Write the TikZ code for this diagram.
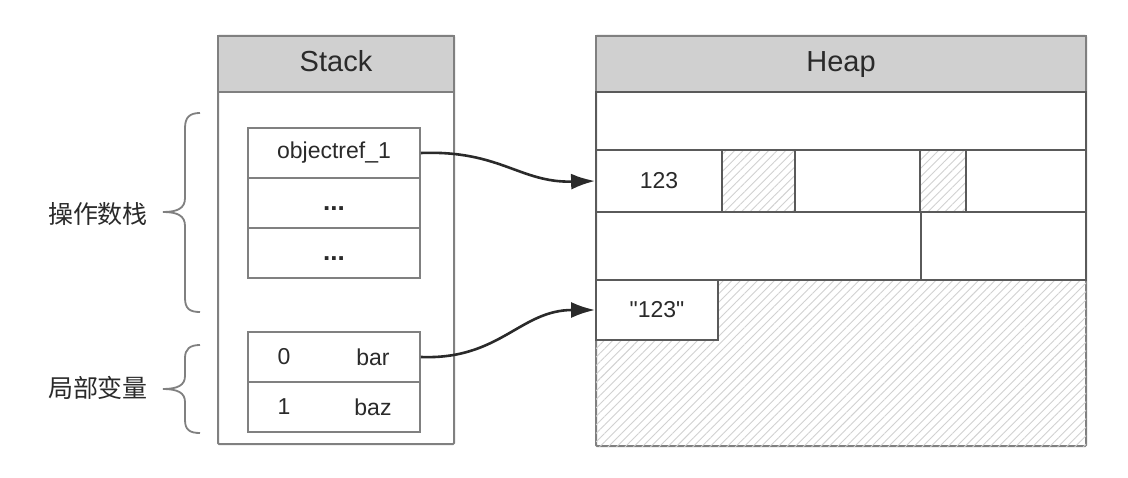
\documentclass[tikz,border=0pt]{standalone}
\usepackage{fontspec}
\setmainfont{Liberation Sans}
\newfontfamily\cjk{Noto Sans CJK SC}
\usetikzlibrary{patterns.meta,arrows.meta}
\definecolor{edge}{HTML}{808080}
\definecolor{darkedge}{HTML}{5A5A5A}
\definecolor{head}{HTML}{D0D0D0}
\definecolor{txt}{HTML}{2A2A2A}
\tikzset{
  box/.style={draw=edge,line width=2pt,minimum width=#1,inner sep=0pt,rounded corners=1pt},
  cell/.style={draw=darkedge,line width=1.8pt,inner sep=0pt,text=txt,font=\fontsize{23}{25}\selectfont},
  headbox/.style={draw=edge,line width=2pt,fill=head,inner sep=0pt,text=txt,font=\fontsize{29}{31}\selectfont,text height=21pt,text depth=6pt},
  hatch/.style={pattern={Lines[angle=45,distance=6pt,line width=0.9pt]},pattern color=black!18},
  lbl/.style={text=txt,font=\fontsize{23}{25}\selectfont,inner sep=0pt},
  cjklbl/.style={text=txt,font=\cjk\fontsize{25}{27}\selectfont,inner sep=0pt},
  brace/.style={draw=edge,line width=1.8pt},
  ptr/.style={draw=txt,line width=2.6pt,-{Latex[length=24pt,width=16pt]}}
}
\newcommand{\mydots}{\smash{\raisebox{-8pt}{\textbf{\fontsize{26}{28}\selectfont...}}}}
\begin{document}
\begin{tikzpicture}[x=1pt,y=-1pt]
\useasboundingbox[fill=white] (0,0) rectangle (1128,478);
% Stack
\node[box=236pt,minimum height=408pt] (stack) at (336,240) {};
\node[headbox,minimum width=236pt,minimum height=56pt] (stackhead) at (336,64) {Stack};
\node[cell,draw=edge,minimum width=172pt,minimum height=50pt] (oref) at (334,153) {objectref\_1};
\node[cell,draw=edge,minimum width=172pt,minimum height=50pt] (dots1) at (334,203) {\mydots};
\node[cell,draw=edge,minimum width=172pt,minimum height=50pt] (dots2) at (334,253) {\mydots};
\node[cell,draw=edge,minimum width=172pt,minimum height=50pt] (bar) at (334,357) {};
\node[cell,draw=edge,minimum width=172pt,minimum height=50pt] (baz) at (334,407) {};
\node[lbl] (n0) at (284,357) {0};
\node[lbl] (nbar) at (373,357) {bar};
\node[lbl] (n1) at (284,407) {1};
\node[lbl] (nbaz) at (373,407) {baz};
% Heap
\node[box=490pt,minimum height=410pt] (heap) at (841,241) {};
\path[hatch] (596,280) rectangle (1086,446);
\node[headbox,minimum width=490pt,minimum height=56pt] (heaphead) at (841,64) {Heap};
\node[cell,minimum width=490pt,minimum height=58pt] (row1) at (841,121) {};
\node[cell,minimum width=126pt,minimum height=62pt] (c123) at (659,181) {123};
\node[cell,hatch,minimum width=73pt,minimum height=62pt] (h1) at (758.5,181) {};
\node[cell,minimum width=125pt,minimum height=62pt] (w1) at (857.5,181) {};
\node[cell,hatch,minimum width=46pt,minimum height=62pt] (h2) at (943,181) {};
\node[cell,minimum width=120pt,minimum height=62pt] (w2) at (1026,181) {};
\node[cell,minimum width=325pt,minimum height=68pt] (r3a) at (758.5,246) {};
\node[cell,minimum width=165pt,minimum height=68pt] (r3b) at (1003.5,246) {};
\node[cell,fill=white,minimum width=122pt,minimum height=60pt] (s123) at (657,310) {\textquotedbl 123\textquotedbl};
% braces
\draw[brace] (200,113) .. controls (190,113) and (185,117) .. (185,128) -- (185,198) .. controls (185,208) and (178,212) .. (163,212) .. controls (178,212) and (185,216) .. (185,226) -- (185,298) .. controls (185,309) and (190,312) .. (200,312);
\draw[brace] (200,345) .. controls (190,345) and (185,349) .. (185,358) -- (185,376) .. controls (185,385) and (178,389) .. (163,389) .. controls (178,389) and (185,393) .. (185,402) -- (185,420) .. controls (185,430) and (190,433) .. (200,433);
\node[cjklbl] (ops) at (98,214) {操作数栈};
\node[cjklbl] (locals) at (98,388) {局部变量};
% pointers
\draw[ptr] (oref.east) .. controls (500,150) and (520,183) .. (c123.west);
\draw[ptr] (bar.east) .. controls (500,360) and (520,310) .. (s123.west);
\end{tikzpicture}
\end{document}
